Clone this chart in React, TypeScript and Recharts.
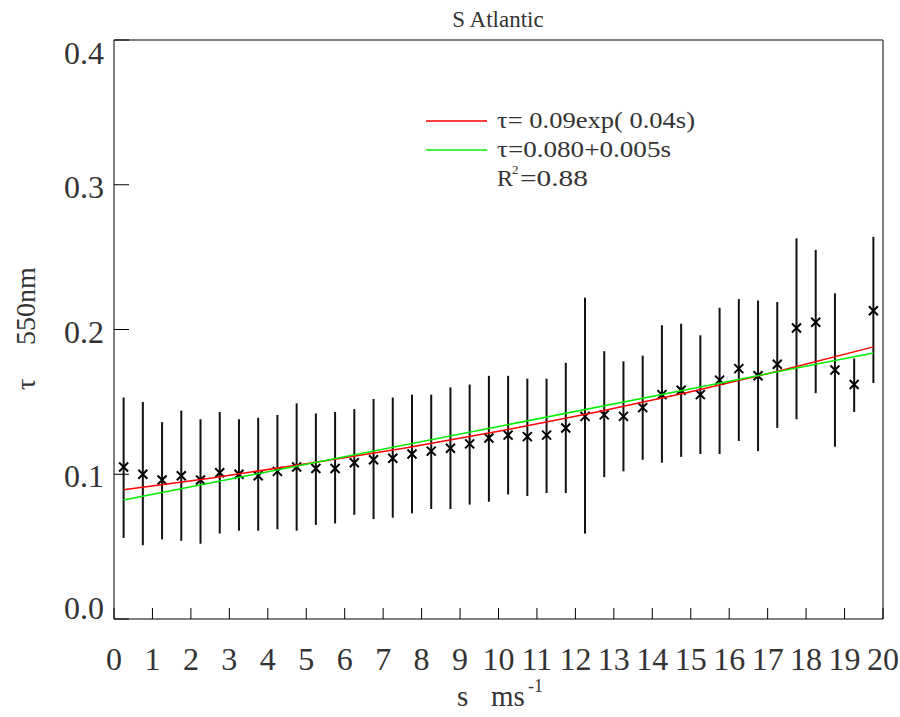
import { ComposedChart, Scatter, XAxis, YAxis, ErrorBar } from "recharts";

// wind speed bin centres (m/s)
const windSpeed = [
  0.25, 0.75, 1.25, 1.75, 2.25, 2.75, 3.25, 3.75, 4.25, 4.75,
  5.25, 5.75, 6.25, 6.75, 7.25, 7.75, 8.25, 8.75, 9.25, 9.75,
  10.25, 10.75, 11.25, 11.75, 12.25, 12.75, 13.25, 13.75, 14.25, 14.75,
  15.25, 15.75, 16.25, 16.75, 17.25, 17.75, 18.25, 18.75, 19.25, 19.75,
];

// mean aerosol optical depth at 550nm per bin
const tauMean = [
  0.105, 0.1, 0.096, 0.099, 0.096, 0.101, 0.1, 0.099, 0.102, 0.105,
  0.104, 0.104, 0.108, 0.11, 0.111, 0.114, 0.116, 0.118, 0.121, 0.125,
  0.127, 0.126, 0.127, 0.132, 0.14, 0.141, 0.14, 0.146, 0.155, 0.158,
  0.155, 0.165, 0.173, 0.168, 0.176, 0.201, 0.205, 0.172, 0.162, 0.213,
];

const tauLow = [
  0.056, 0.051, 0.055, 0.054, 0.052, 0.059, 0.061, 0.061, 0.062, 0.061,
  0.065, 0.066, 0.072, 0.069, 0.07, 0.073, 0.076, 0.076, 0.079, 0.081,
  0.086, 0.085, 0.087, 0.087, 0.059, 0.098, 0.102, 0.11, 0.108, 0.112,
  0.114, 0.114, 0.123, 0.116, 0.132, 0.138, 0.156, 0.119, 0.143, 0.163,
];

const tauHigh = [
  0.153, 0.15, 0.136, 0.144, 0.138, 0.143, 0.138, 0.139, 0.141, 0.149,
  0.142, 0.143, 0.145, 0.152, 0.153, 0.155, 0.155, 0.16, 0.162, 0.168,
  0.168, 0.166, 0.166, 0.177, 0.222, 0.185, 0.178, 0.182, 0.203, 0.204,
  0.196, 0.215, 0.221, 0.22, 0.219, 0.263, 0.255, 0.225, 0.18, 0.264,
];

// fitted curves
const expFitX = [0.25, 2.5, 5, 7.5, 10, 12.5, 15, 17.5, 19.75];
const expFitTau = [0.0893, 0.0973, 0.1072, 0.1178, 0.1297, 0.1426, 0.157, 0.1727, 0.188];
const linFitX = [0.25, 19.75];
const linFitTau = [0.0822, 0.1838];

const xTicks = [0, 1, 2, 3, 4, 5, 6, 7, 8, 9, 10, 11, 12, 13, 14, 15, 16, 17, 18, 19, 20];
const yTicks = [0, 0.1, 0.2, 0.3, 0.4];
const yTickLabels = ["0.0", "0.1", "0.2", "0.3", "0.4"];

const points = windSpeed.map((s, i) => ({
  s,
  tau: tauMean[i],
  err: [tauMean[i] - tauLow[i], tauHigh[i] - tauMean[i]],
}));
const expFit = expFitX.map((s, i) => ({ s, tau: expFitTau[i] }));
const linFit = linFitX.map((s, i) => ({ s, tau: linFitTau[i] }));

const FONT = "Liberation Serif, Times New Roman, serif";
const TEXT = "#333";

const BottomTick = ({ x, y, payload }: any) => (
  <g>
    <line x1={x} x2={x} y1={y} y2={y - 11} stroke="#000" />
    <text x={x} y={y + 51} textAnchor="middle" fontSize={32} fontFamily={FONT} fill={TEXT}>
      {payload.value}
    </text>
  </g>
);

const LeftTick = ({ x, y, payload, index }: any) => {
  // end labels are pushed inside the axis range like the original
  const shift = payload.value >= 0.4 ? 13 : payload.value <= 0 ? -11 : 2;
  return (
    <g>
      <line x1={x} x2={x + 15} y1={y} y2={y} stroke="#000" />
      <text x={x - 10} y={y + shift + 11} textAnchor="end" fontSize={32} fontFamily={FONT} fill={TEXT}>
        {yTickLabels[index] ?? payload.value}
      </text>
    </g>
  );
};

const Cross = ({ cx, cy }: any) => (
  <path
    d={`M${cx - 4.5},${cy - 4.5}L${cx + 4.5},${cy + 4.5}M${cx - 4.5},${cy + 4.5}L${cx + 4.5},${cy - 4.5}`}
    stroke="#000"
    strokeWidth={2}
  />
);

const NoDot = () => <g />;

const axisLine = { stroke: "#555", strokeWidth: 1.5 };

export default function App() {
  return (
    <div style={{ position: "absolute", left: 0, top: 0, width: 900, height: 717, background: "#fff" }}>
      <ComposedChart
        width={900}
        height={717}
        margin={{ top: 40, right: 17, bottom: 97, left: 113 }}
      >
        <XAxis
          xAxisId="b"
          dataKey="s"
          type="number"
          domain={[0, 20]}
          ticks={xTicks}
          interval={0}
          height={1}
          tickSize={0}
          tickMargin={0}
          tickLine={false}
          axisLine={axisLine}
          tick={<BottomTick />}
          allowDataOverflow
        />
        <XAxis
          xAxisId="t"
          orientation="top"
          type="number"
          domain={[0, 20]}
          ticks={xTicks}
          interval={0}
          height={1}
          mirror
          tickSize={12}
          tick={false}
          tickLine={{ stroke: "#000" }}
          axisLine={axisLine}
          allowDataOverflow
        />
        <YAxis
          yAxisId="l"
          type="number"
          domain={[0, 0.4]}
          ticks={yTicks}
          interval={0}
          width={1}
          tickSize={0}
          tickMargin={0}
          tickLine={false}
          axisLine={axisLine}
          tick={<LeftTick />}
          allowDataOverflow
        />
        <YAxis
          yAxisId="r"
          orientation="right"
          type="number"
          domain={[0, 0.4]}
          ticks={yTicks}
          interval={0}
          width={1}
          mirror
          tickSize={15}
          tick={false}
          tickLine={{ stroke: "#000" }}
          axisLine={axisLine}
          allowDataOverflow
        />
        <Scatter
          xAxisId="b"
          yAxisId="l"
          data={points}
          dataKey="tau"
          shape={<Cross />}
          isAnimationActive={false}
        >
          <ErrorBar dataKey="err" direction="y" width={0} stroke="#111" strokeWidth={2} isAnimationActive={false} />
        </Scatter>
        <Scatter
          xAxisId="b"
          yAxisId="l"
          data={expFit}
          dataKey="tau"
          line={{ stroke: "#ff0000", strokeWidth: 1.5 }}
          shape={<NoDot />}
          isAnimationActive={false}
        />
        <Scatter
          xAxisId="b"
          yAxisId="l"
          data={linFit}
          dataKey="tau"
          line={{ stroke: "#00ee00", strokeWidth: 1.5 }}
          shape={<NoDot />}
          isAnimationActive={false}
        />
      </ComposedChart>

      <svg
        width={900}
        height={717}
        style={{ position: "absolute", left: 0, top: 0, pointerEvents: "none" }}
        fontFamily={FONT}
        fill={TEXT}
      >
        <text x={498} y={27} textAnchor="middle" fontSize={23}>S Atlantic</text>

        <g transform="translate(35,330) rotate(-90)">
          <text x={-60} y={0} fontSize={28}>τ</text>
          <text x={-15} y={0} fontSize={28}>550nm</text>
        </g>

        <text x={457} y={706} fontSize={29}>s</text>
        <text x={491} y={706} fontSize={29}>ms</text>
        <text x={528} y={692} fontSize={18}>-1</text>

        <line x1={426} x2={487} y1={121} y2={121} stroke="#ff0000" strokeWidth={1.5} />
        <line x1={426} x2={487} y1={150} y2={150} stroke="#00ee00" strokeWidth={1.5} />
        <text x={497} y={128} fontSize={24} textLength={198} lengthAdjust="spacingAndGlyphs">τ= 0.09exp( 0.04s)</text>
        <text x={497} y={157} fontSize={24} textLength={174} lengthAdjust="spacingAndGlyphs">τ=0.080+0.005s</text>
        <text x={497} y={186} fontSize={24}>R</text>
        <text x={512} y={174} fontSize={13}>2</text>
        <text x={520} y={186} fontSize={24} textLength={68} lengthAdjust="spacingAndGlyphs">=0.88</text>
      </svg>
    </div>
  );
}
